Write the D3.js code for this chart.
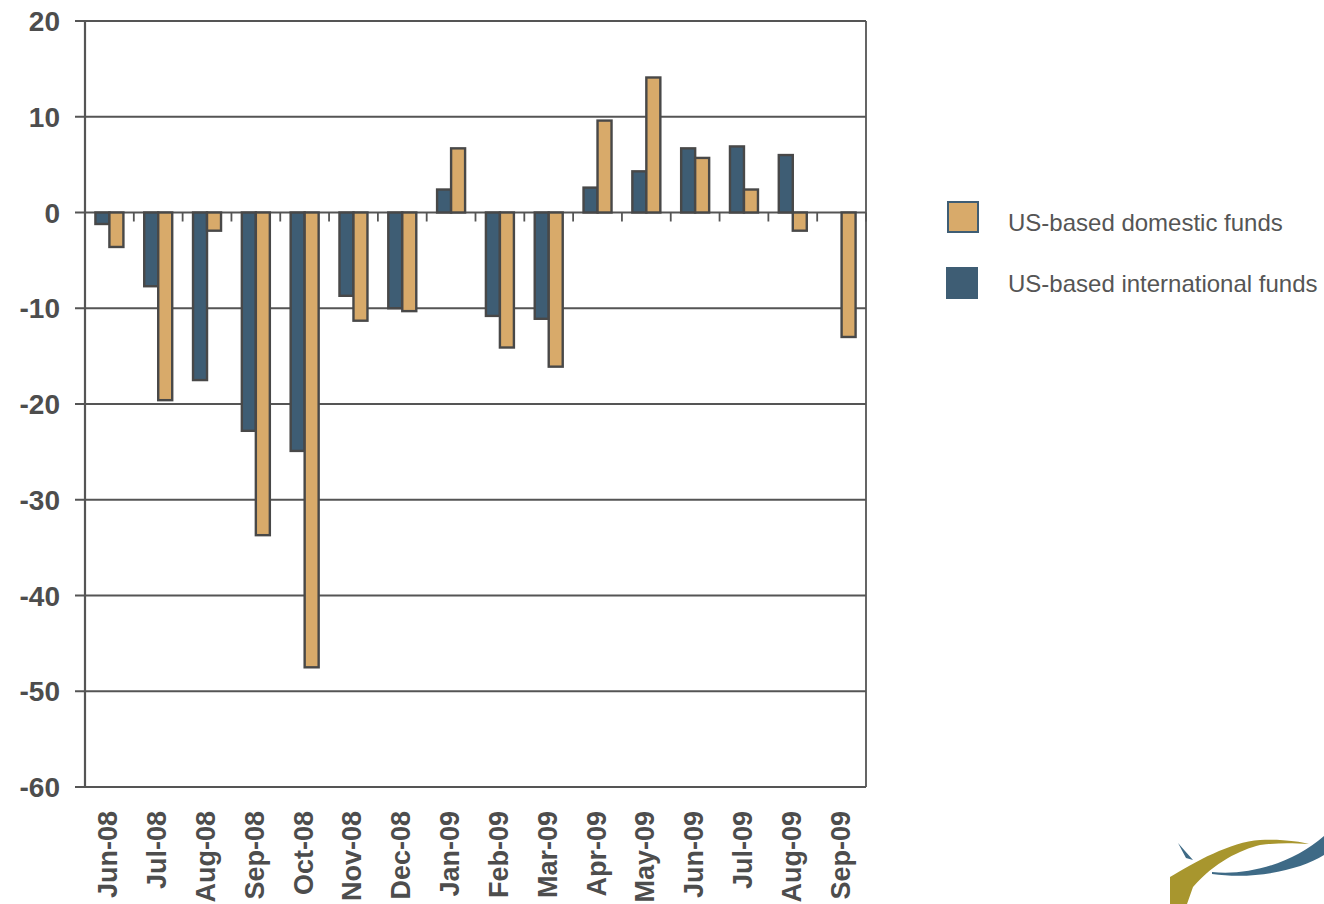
<!DOCTYPE html>
<html><head><meta charset="utf-8">
<script src="https://cdn.jsdelivr.net/npm/d3@7"></script>
<style>body{margin:0;background:#fff}svg{display:block}</style>
</head><body>
<svg id="c" width="1324" height="904"></svg>
<script>
const categories = ["Jun-08","Jul-08","Aug-08","Sep-08","Oct-08","Nov-08","Dec-08","Jan-09","Feb-09","Mar-09","Apr-09","May-09","Jun-09","Jul-09","Aug-09","Sep-09"];
const international = [-1.2,-7.7,-17.5,-22.8,-24.9,-8.7,-10.0,2.4,-10.8,-11.1,2.6,4.3,6.7,6.9,6.0,null];
const domestic = [-3.6,-19.6,-1.9,-33.7,-47.5,-11.3,-10.3,6.7,-14.1,-16.1,9.6,14.1,5.7,2.4,-1.9,-13.0];
const yTicks = [20,10,0,-10,-20,-30,-40,-50,-60];
const seriesNames = ["US-based domestic funds","US-based international funds"];
const colors = {dom:"#D8AA6A", intl:"#3E5D74"};

const svg = d3.select("#c");
const L=85,R=866,T=21,B=787;
const x = d3.scaleBand().domain(categories).range([L,R]);
const y = d3.scaleLinear().domain([-60,20]).range([B,T]);
const axisCol="#555";
const font="Liberation Sans, Arial, sans-serif";

// gridlines
svg.append("g").selectAll("line").data(yTicks).join("line")
  .attr("x1",L-10).attr("x2",R).attr("y1",d=>y(d)).attr("y2",d=>y(d))
  .attr("stroke",axisCol).attr("stroke-width",1.8);
// frame
svg.append("line").attr("x1",R).attr("x2",R).attr("y1",T).attr("y2",B).attr("stroke",axisCol).attr("stroke-width",1.8);

// y labels
svg.append("g").selectAll("text").data(yTicks).join("text")
  .attr("x",60).attr("y",d=>y(d)+10).attr("text-anchor","end")
  .attr("font-family",font).attr("font-weight","bold")
  .attr("font-size",28).attr("fill","#4d4d4d").text(d=>d);

// x ticks at band boundaries below zero
svg.append("g").selectAll("line").data(categories).join("line")
  .attr("x1",(d,i)=>x(d)+x.step()).attr("x2",(d,i)=>x(d)+x.step())
  .attr("y1",y(0)).attr("y2",y(0)+9).attr("stroke",axisCol).attr("stroke-width",1.8);

const bw = 14;
const g = svg.append("g");
g.selectAll("rect.i").data(categories.map((c,i)=>({c,v:international[i]})).filter(d=>d.v!==null)).join("rect")
  .attr("class","i")
  .attr("x",d=>x(d.c)+x.bandwidth()/2-bw).attr("width",bw)
  .attr("y",d=>y(Math.max(0,d.v))).attr("height",d=>Math.abs(y(d.v)-y(0)))
  .attr("fill",colors.intl).attr("stroke","#484848").attr("stroke-width",2.4);
g.selectAll("rect.d").data(categories.map((c,i)=>({c,v:domestic[i]}))).join("rect")
  .attr("class","d")
  .attr("x",d=>x(d.c)+x.bandwidth()/2).attr("width",bw)
  .attr("y",d=>y(Math.max(0,d.v))).attr("height",d=>Math.abs(y(d.v)-y(0)))
  .attr("fill",colors.dom).attr("stroke","#484848").attr("stroke-width",2.4);

// left axis line
svg.append("line").attr("x1",L).attr("x2",L).attr("y1",T).attr("y2",B).attr("stroke",axisCol).attr("stroke-width",2.2);

// x labels
svg.append("g").selectAll("text").data(categories).join("text")
  .attr("transform",d=>`translate(${x(d)+x.bandwidth()/2+8},811) rotate(-90)`)
  .attr("text-anchor","end")
  .attr("font-family",font).attr("font-weight","bold")
  .attr("font-size",27).attr("fill","#4d4d4d").text(d=>d);

// legend
const lg = svg.append("g");
lg.append("rect").attr("x",948).attr("y",202).attr("width",30).attr("height",30)
  .attr("fill",colors.dom).attr("stroke",colors.intl).attr("stroke-width",2);
lg.append("rect").attr("x",946).attr("y",267).attr("width",32).attr("height",32).attr("fill",colors.intl);
lg.selectAll("text").data(seriesNames).join("text")
  .attr("x",1008).attr("y",(d,i)=>231+i*61)
  .attr("font-family",font).attr("font-size",24).attr("fill","#555").text(d=>d);

// logo decoration
const logo = svg.append("g");
logo.append("path").attr("d","M1170,904 L1170,877 C1195,862 1230,842 1260,840 C1285,839 1300,842 1309,844 C1290,843 1275,843 1260,845 C1240,850 1215,862 1193,887 L1187,904 Z").attr("fill","#A8962E");
logo.append("path").attr("d","M1212,872 C1250,876 1295,862 1324,836 L1324,855 C1300,870 1255,880 1212,874 Z").attr("fill","#3E6A86");
logo.append("path").attr("d","M1178,843 L1185,851 L1193,860 L1186,858 Z").attr("fill","#3E6A86");
</script>
</body></html>
